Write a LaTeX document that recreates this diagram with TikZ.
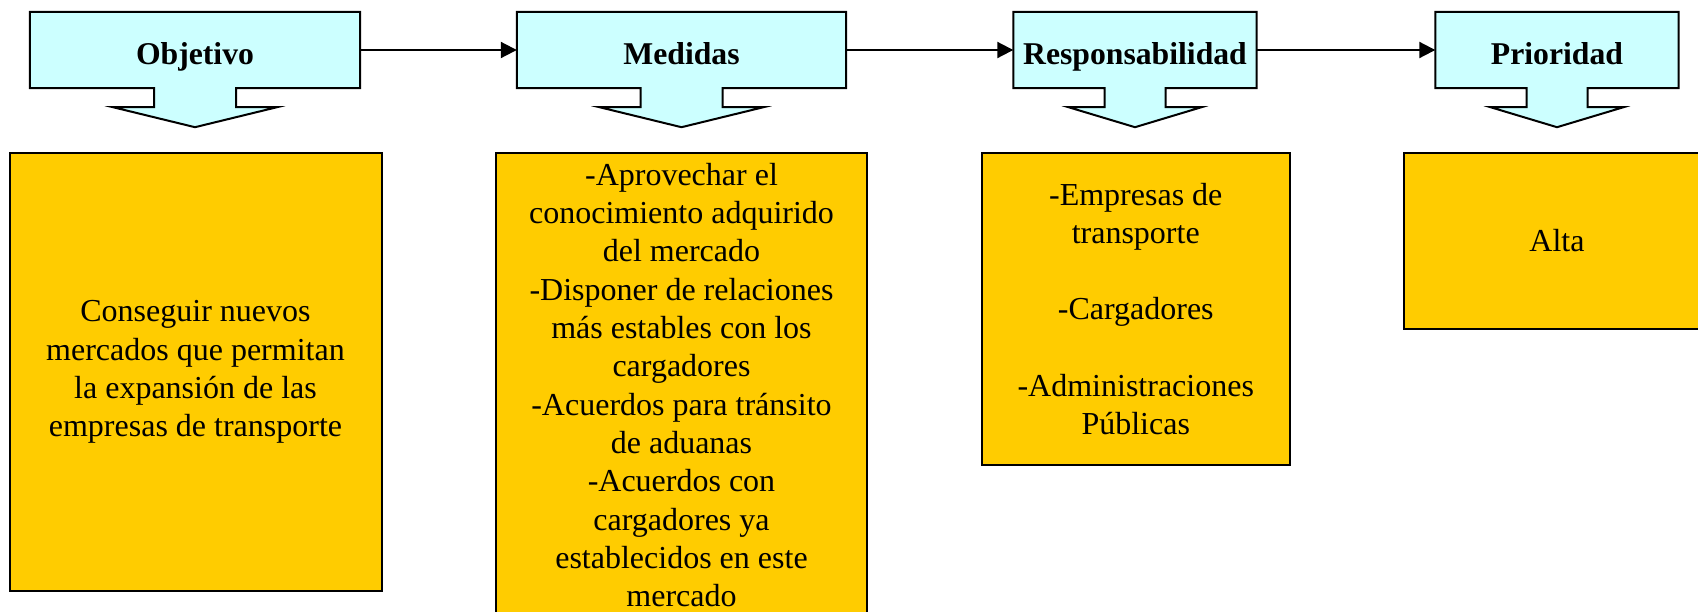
\documentclass[tikz,border=0pt]{standalone}
\usepackage{fontspec}
\setmainfont{Liberation Serif}
\usetikzlibrary{arrows.meta,backgrounds}
\definecolor{hdrcyan}{HTML}{CCFFFF}
\definecolor{boxyellow}{HTML}{FFCC00}
\tikzset{
  hdr/.style={inner sep=0pt, minimum height=76pt, text height=28pt, text depth=0pt,
    font=\bfseries\fontsize{31.7}{38}\selectfont},
  hdrshape/.style={draw=black, line width=2pt, fill=hdrcyan, line join=miter},
  yel/.style={draw=black, line width=2pt, fill=boxyellow, align=center, inner sep=0pt,
    font=\fontsize{32}{38.3}\selectfont},
  conn/.style={line width=2pt, -{Triangle[length=16pt,width=16pt]}}
}
\newcommand{\hdroutline}[3]{%
  \draw[hdrshape] (#1.north west) -- (#1.north east) -- (#1.south east)
    -- ([xshift=#2]#1.south) -- ([xshift=#2,yshift=-19pt]#1.south)
    -- ([xshift=#3,yshift=-19pt]#1.south) -- ([yshift=-39pt]#1.south)
    -- ([xshift=-#3,yshift=-19pt]#1.south) -- ([xshift=-#2,yshift=-19pt]#1.south)
    -- ([xshift=-#2]#1.south) -- (#1.south west) -- cycle;}
\begin{document}
\begin{tikzpicture}[x=1pt,y=-1pt]
\useasboundingbox (0,0) rectangle (1698,611);
\clip (0,0) rectangle (1698,611);

% header nodes
\node[hdr, minimum width=330pt] (hobj) at (195,50) {Objetivo};
\node[hdr, minimum width=329pt] (hmed) at (681.5,50) {Medidas};
\node[hdr, minimum width=243pt] (hres) at (1135,50) {Responsabilidad};
\node[hdr, minimum width=243pt] (hpri) at (1557,50) {Prioridad};

\begin{scope}[on background layer]
  \fill[white] (0,0) rectangle (1698,611);
  \hdroutline{hobj}{41pt}{82pt}
  \hdroutline{hmed}{41pt}{82pt}
  \hdroutline{hres}{30.5pt}{66.5pt}
  \hdroutline{hpri}{30.5pt}{66.5pt}
\end{scope}

% connectors
\draw[conn] (hobj) -- (hmed);
\draw[conn] (hmed) -- (hres);
\draw[conn] (hres) -- (hpri);

% content boxes
\node[yel, minimum width=372pt, minimum height=438pt] (bobj) at (195.5,372)
  {Conseguir nuevos\\mercados que permitan\\la expansión de las\\empresas de transporte};
\node[yel, minimum width=371pt, minimum height=464pt] (bmed) at (681.5,385)
  {-Aprovechar el\\conocimiento adquirido\\del mercado\\-Disponer de relaciones\\más estables con los\\cargadores\\-Acuerdos para tránsito\\de aduanas\\-Acuerdos con\\cargadores ya\\establecidos en este\\mercado};
\node[yel, minimum width=308.5pt, minimum height=312pt] (bres) at (1135.75,309)
  {-Empresas de\\transporte\\\mbox{}\\-Cargadores\\\mbox{}\\-Administraciones\\Públicas};
\node[yel, minimum width=306pt, minimum height=176pt] (bpri) at (1557,241)
  {Alta};
\end{tikzpicture}
\end{document}
